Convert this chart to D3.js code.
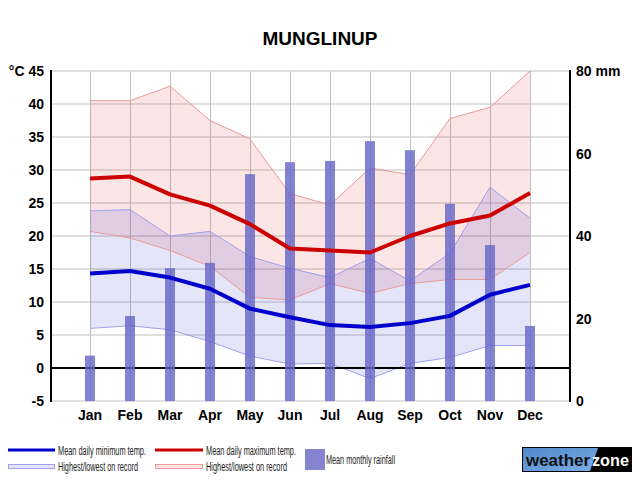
<!DOCTYPE html>
<html><head><meta charset="utf-8">
<script src="https://cdn.jsdelivr.net/npm/d3@7"></script>
<style>body{margin:0;background:#fff}svg{display:block;font-family:"Liberation Sans",Arial,sans-serif}</style>
</head><body><svg id="c" width="640" height="480"></svg>
<script>
const months = ["Jan","Feb","Mar","Apr","May","Jun","Jul","Aug","Sep","Oct","Nov","Dec"];
const meanMin = [14.3,14.7,13.7,12.0,9.0,7.7,6.5,6.2,6.8,7.9,11.1,12.6];
const meanMax = [28.7,29.0,26.3,24.6,21.8,18.1,17.8,17.5,20.0,21.9,23.1,26.5];
const highestMax = [40.5,40.5,42.7,37.5,34.7,26.4,24.7,30.3,29.3,37.8,39.5,45.0];
const lowestMax = [20.7,19.7,17.8,15.4,10.7,10.3,12.8,11.3,12.8,13.4,13.4,17.5];
const highestMin = [23.8,24.0,20.0,20.7,16.9,15.1,13.7,16.6,13.2,17.4,27.4,22.7];
const lowestMin = [6.0,6.4,5.8,4.0,1.8,0.6,0.7,-1.6,0.7,1.6,3.4,3.4];
const rainfall = [11,20.6,32.2,33.5,55,57.9,58.2,63,60.8,47.8,37.8,18.2];
const tempTicks = [-5,0,5,10,15,20,25,30,35,40,45];
const rainTicks = [0,20,40,60,80];

const svg = d3.select("#c");
const L = 51, R = 570, T = 71, B = 401;
const x = d3.scaleLinear().domain([-0.975, 12.0]).range([L, R]);
const y = d3.scaleLinear().domain([-5, 45]).range([B, T]);
const yr = d3.scaleLinear().domain([0, 80]).range([B, T]);
const idx = d3.range(12);

// grid
const g = svg.append("g");
g.selectAll("line.h").data(tempTicks).join("line")
  .attr("x1", L).attr("x2", R).attr("y1", d => y(d)).attr("y2", d => y(d))
  .attr("stroke", "#c0c0c0").attr("stroke-width", 1);
g.selectAll("line.v").data(idx).join("line")
  .attr("x1", d => Math.round(x(d)) + 0.5).attr("x2", d => Math.round(x(d)) + 0.5)
  .attr("y1", T).attr("y2", B)
  .attr("stroke", "#c0c0c0").attr("stroke-width", 1);

// bands
const area = (hi, lo) => d3.area().x(d => x(d)).y0(d => y(lo[d])).y1(d => y(hi[d]));
const line = arr => d3.line().x(d => x(d)).y(d => y(arr[d]));
svg.append("path").datum(idx).attr("d", area(highestMax, lowestMax))
  .attr("fill", "rgba(220,40,40,0.12)");
svg.append("path").datum(idx).attr("d", area(highestMin, lowestMin))
  .attr("fill", "rgba(0,0,200,0.10)");
[highestMax, lowestMax].forEach(a => svg.append("path").datum(idx).attr("d", line(a))
  .attr("fill", "none").attr("stroke", "#ec9a9a").attr("stroke-width", 1));
[highestMin, lowestMin].forEach(a => svg.append("path").datum(idx).attr("d", line(a))
  .attr("fill", "none").attr("stroke", "#a0a0ec").attr("stroke-width", 1));

// zero line
svg.append("line").attr("x1", L).attr("x2", R).attr("y1", y(0)).attr("y2", y(0))
  .attr("stroke", "#000").attr("stroke-width", 2);

// bars
svg.selectAll("rect.bar").data(idx).join("rect")
  .attr("x", d => x(d) - 5).attr("width", 10)
  .attr("y", d => yr(rainfall[d])).attr("height", d => B - yr(rainfall[d]))
  .attr("fill", "rgba(100,100,200,0.8)");

// mean lines
svg.append("path").datum(idx).attr("d", line(meanMax))
  .attr("fill", "none").attr("stroke", "#cc0000").attr("stroke-width", 4).attr("stroke-linejoin", "round");
svg.append("path").datum(idx).attr("d", line(meanMin))
  .attr("fill", "none").attr("stroke", "#0000cc").attr("stroke-width", 4).attr("stroke-linejoin", "round");

// axes lines
svg.append("line").attr("x1", L).attr("x2", L).attr("y1", T - 1).attr("y2", B + 1).attr("stroke", "#000").attr("stroke-width", 2);
svg.append("line").attr("x1", R).attr("x2", R).attr("y1", T - 1).attr("y2", B + 1).attr("stroke", "#000").attr("stroke-width", 2);

// left labels
svg.selectAll("text.lt").data(tempTicks).join("text")
  .attr("x", 44).attr("y", d => y(d) + 5).attr("text-anchor", "end")
  .attr("font-size", 14).attr("font-weight", "bold")
  .text(d => d === 45 ? "°C 45" : d);
// right labels
svg.selectAll("text.rt").data(rainTicks).join("text")
  .attr("x", 576).attr("y", d => yr(d) + 5)
  .attr("font-size", 14).attr("font-weight", "bold")
  .text(d => d === 80 ? "80 mm" : d);
// month labels
svg.selectAll("text.m").data(idx).join("text")
  .attr("x", d => x(d)).attr("y", 420).attr("text-anchor", "middle")
  .attr("font-size", 14).attr("font-weight", "bold").text(d => months[d]);

// title
svg.append("text").attr("x", 320).attr("y", 45).attr("text-anchor", "middle")
  .attr("font-size", 19).attr("font-weight", "bold").text("MUNGLINUP");

// legend
const lg = svg.append("g").attr("font-size", 12.5).attr("fill", "#222");
lg.append("line").attr("x1", 8).attr("x2", 55).attr("y1", 450).attr("y2", 450).attr("stroke", "#0000cc").attr("stroke-width", 3);
lg.append("text").attr("x", 58).attr("y", 454.5).attr("textLength", 88).attr("lengthAdjust", "spacingAndGlyphs").text("Mean daily minimum temp.");
lg.append("rect").attr("x", 8.5).attr("y", 464.5).attr("width", 46).attr("height", 4).attr("fill", "#e4e4f8").attr("stroke", "#a0a0ec");
lg.append("text").attr("x", 58).attr("y", 471).attr("textLength", 80).attr("lengthAdjust", "spacingAndGlyphs").text("Highest/lowest on record");
lg.append("line").attr("x1", 155).attr("x2", 203).attr("y1", 450).attr("y2", 450).attr("stroke", "#cc0000").attr("stroke-width", 3);
lg.append("text").attr("x", 206).attr("y", 454.5).attr("textLength", 90).attr("lengthAdjust", "spacingAndGlyphs").text("Mean daily maximum temp.");
lg.append("rect").attr("x", 155.5).attr("y", 464.5).attr("width", 47).attr("height", 4).attr("fill", "#fae4e4").attr("stroke", "#ec9a9a");
lg.append("text").attr("x", 206).attr("y", 471).attr("textLength", 81).attr("lengthAdjust", "spacingAndGlyphs").text("Highest/lowest on record");
lg.append("rect").attr("x", 305).attr("y", 449).attr("width", 20).attr("height", 21).attr("fill", "#8484d0");
lg.append("text").attr("x", 326).attr("y", 464).attr("textLength", 69).attr("lengthAdjust", "spacingAndGlyphs").text("Mean monthly rainfall");

// logo
const defs = svg.append("defs");
const gr = defs.append("linearGradient").attr("id", "lgb").attr("x1", 0).attr("x2", 1).attr("y1", 0).attr("y2", 1);
gr.append("stop").attr("offset", 0).attr("stop-color", "#4f88cc");
gr.append("stop").attr("offset", 1).attr("stop-color", "#7aaee4");
svg.append("rect").attr("x", 522).attr("y", 447).attr("width", 110).attr("height", 25).attr("fill", "#000");
svg.append("path").attr("d", "M523,448 L598,448 L590,471 L523,471 Z").attr("fill", "url(#lgb)");
svg.append("text").attr("x", 526).attr("y", 466).attr("font-size", 17).attr("font-weight", "bold").attr("fill", "#111")
  .attr("textLength", 64).attr("lengthAdjust", "spacingAndGlyphs").text("weather");
svg.append("text").attr("x", 592).attr("y", 466).attr("font-size", 17).attr("font-weight", "bold").attr("fill", "#fff")
  .attr("textLength", 37).attr("lengthAdjust", "spacingAndGlyphs").text("zone");
</script></body></html>
